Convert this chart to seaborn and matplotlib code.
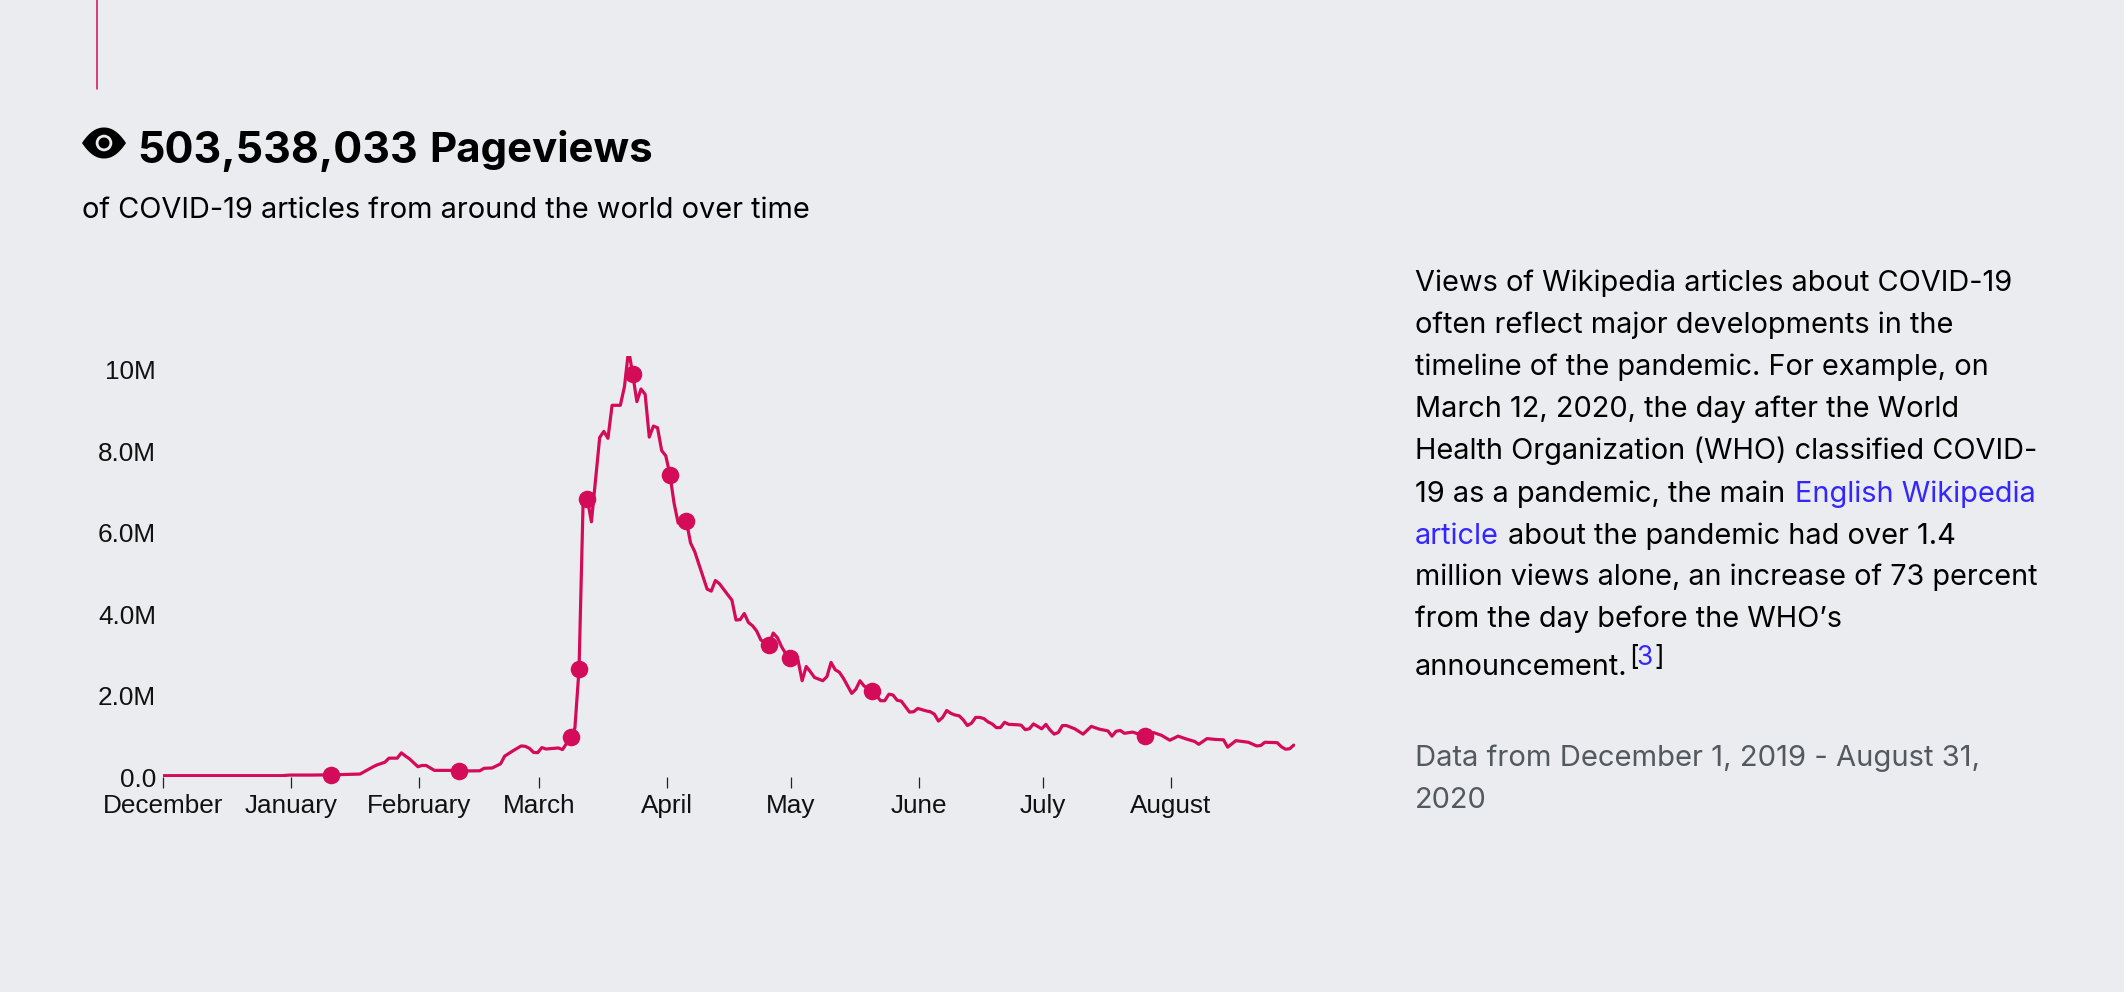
import matplotlib
matplotlib.use("Agg")
import matplotlib.pyplot as plt
import pandas as pd
import seaborn as sns
from matplotlib.patches import Circle, PathPatch
from matplotlib.path import Path
from matplotlib.transforms import ScaledTranslation

# days since Dec 1 2019, views in millions
days = [0, 29, 31, 36, 41, 48, 51, 52, 54, 55, 57, 58, 59, 60, 62, 63, 64, 66, 70, 72, 77, 78, 80, 82, 83, 85, 87, 88, 89, 90, 91, 92, 93, 96, 97,
        99, 100, 101, 102, 103, 104, 106, 107, 108, 109, 111, 112, 113, 114, 115, 116, 117, 118, 119, 120, 121, 122, 123, 124, 125, 126, 127, 128, 129,
        132, 133, 134, 135, 137, 138, 139, 140, 141, 142, 143, 144, 145, 147, 148, 149, 150, 151, 152, 154, 155, 156, 157, 158, 160, 161, 162, 163, 164,
        165, 167, 168, 169, 170, 172, 174, 175, 176, 177, 178, 179, 181, 182, 183, 185, 186, 187, 188, 189, 190, 191, 192, 193, 194, 195, 196, 197, 198,
        199, 200, 201, 202, 203, 204, 205, 207, 208, 209, 210, 211, 213, 214, 215, 216, 217, 218, 219, 221, 223, 225, 227, 229, 230, 231, 232, 233, 235,
        238, 240, 242, 244, 246, 248, 250, 251, 253, 255, 257, 258, 260, 263, 265, 266, 267, 270, 271, 272, 273, 274]
views = [0.0, 0.0, 0.015, 0.015, 0.02, 0.04, 0.21, 0.26, 0.33, 0.43, 0.43, 0.56, 0.48, 0.41, 0.22, 0.25, 0.25, 0.13, 0.13, 0.115, 0.12, 0.18, 0.19, 0.29, 0.48, 0.61, 0.73, 0.72, 0.67, 0.57, 0.565, 0.69, 0.655, 0.68, 0.64,
         0.95, 1.17, 2.61, 6.77, 6.8, 6.23, 8.3, 8.45, 8.28, 9.09, 9.09, 9.55, 10.45, 9.85, 9.18, 9.49, 9.36, 8.31, 8.58, 8.54, 7.98, 7.85, 7.39, 6.69, 6.2, 6.22, 6.24, 5.71, 5.5,
         4.58, 4.53, 4.79, 4.71, 4.44, 4.31, 3.82, 3.83, 3.98, 3.76, 3.68, 3.55, 3.33, 3.21, 3.5, 3.39, 3.17, 3.0, 2.88, 2.84, 2.33, 2.68, 2.55, 2.41, 2.33, 2.43, 2.78, 2.6, 2.54,
         2.39, 2.02, 2.12, 2.33, 2.2, 2.08, 1.84, 1.84, 2.0, 1.98, 1.85, 1.83, 1.56, 1.57, 1.65, 1.59, 1.57, 1.51, 1.34, 1.43, 1.6, 1.53, 1.49, 1.47, 1.37, 1.23, 1.29, 1.43, 1.43,
         1.4, 1.32, 1.27, 1.18, 1.18, 1.31, 1.26, 1.25, 1.24, 1.13, 1.15, 1.27, 1.15, 1.26, 1.12, 1.02, 1.06, 1.23, 1.23, 1.15, 1.02, 1.21, 1.14, 1.1, 0.97, 1.09, 1.11, 1.04, 1.07,
         0.97, 1.06, 0.99, 0.87, 0.97, 0.9, 0.84, 0.77, 0.91, 0.89, 0.88, 0.7, 0.86, 0.82, 0.73, 0.74, 0.82, 0.81, 0.71, 0.65, 0.66, 0.75]

# highlighted days
marker_days = [41, 72, 99, 101, 103, 114, 123, 127, 147, 152, 172, 238]

month_names = ["December", "January", "February", "March", "April", "May", "June", "July", "August"]
month_starts = [0, 31, 62, 91, 122, 152, 183, 213, 244]
y_ticks = [0, 2, 4, 6, 8, 10]
y_labels = ["0.0", "2.0M", "4.0M", "6.0M", "8.0M", "10M"]

body_lines = ["Views of Wikipedia articles about COVID-19",
              "often reflect major developments in the",
              "timeline of the pandemic. For example, on",
              "March 12, 2020, the day after the World",
              "Health Organization (WHO) classified COVID-"]

BG = "#EAECF0"
RED = "#D40B58"
BLUE = "#3326FF"
GRAY = "#54595D"
W, H = 2124, 992

sns.set_theme(style="white", rc={"figure.facecolor": BG, "axes.facecolor": BG})
plt.rcParams["font.family"] = ["Inter", "DejaVu Sans"]

df = pd.DataFrame({"day": days, "views": views})
marks = df[df["day"].isin(marker_days)]

fig = plt.figure(figsize=(W / 100, H / 100), dpi=100)

# main chart, placed by pixels
left, right, top, bottom = 163, 1295, 356, 776.9
ax = fig.add_axes([left / W, 1 - bottom / H, (right - left) / W, (bottom - top) / H])
sns.lineplot(data=df, x="day", y="views", color=RED, linewidth=2.3, estimator=None, ax=ax)
sns.scatterplot(data=marks, x="day", y="views", color=RED, s=160, linewidth=0, zorder=3, clip_on=False, ax=ax)
# the marks sit about a pixel left of the month ticks in the reference
shift = 0.3
ax.set_xlim(shift, 274 + shift)
ax.set_ylim(-0.03, 10.3)
ax.set_xlabel("")
ax.set_ylabel("")
ax.set_xticks([m + shift for m in month_starts])
ax.set_xticklabels(month_names, fontfamily="Liberation Sans", fontsize=18.8, color="#111111")
ax.set_yticks(y_ticks)
ax.set_yticklabels(y_labels, fontfamily="Liberation Sans", fontsize=18.8, color="#111111")
ax.tick_params(axis="x", length=8, width=0.9, color="#222222", pad=4, bottom=True)
ax.tick_params(axis="y", length=0, pad=5)
nudge = ScaledTranslation(0, -1.5 / 100, fig.dpi_scale_trans)
for lab in ax.get_yticklabels():
    lab.set_transform(lab.get_transform() + nudge)
sns.despine(ax=ax, left=True, bottom=True)

# overlay in pixel coordinates for the page furniture and text
page = fig.add_axes([0, 0, 1, 1], facecolor="none")
page.set_xlim(0, W)
page.set_ylim(H, 0)
page.axis("off")

page.plot([96.8, 96.8], [0, 88.7], color=RED, linewidth=1.1)

# eye icon
eye = Path([(82, 143), (90, 131), (97, 127.5), (104, 127.5), (111, 127.5), (118, 131), (126, 143),
            (118, 155), (111, 158.5), (104, 158.5), (97, 158.5), (90, 155), (82, 143)],
           [Path.MOVETO] + [Path.CURVE4] * 12)
page.add_patch(PathPatch(eye, facecolor="black", edgecolor="none"))
page.add_patch(Circle((104, 143), 8.3, facecolor=BG, edgecolor="none"))
page.add_patch(Circle((104, 143), 5.5, facecolor="black", edgecolor="none"))

page.text(137.5, 162.5, "503,538,033", fontsize=30.9, fontweight="bold", color="black")
page.text(429, 162.5, "Pageviews", fontsize=30.2, fontweight="bold", color="black")
page.text(82.5, 218, "of COVID-19 articles from around the world over time", fontsize=20.85, color="black")

BODY = 20.85
x0 = 1415
for i, line in enumerate(body_lines):
    page.text(x0, 291.4 + 42 * i, line, fontsize=BODY, color="black")
page.text(x0, 502, "19 as a pandemic, the main", fontsize=BODY, color="black")
page.text(1795, 502, "English Wikipedia", fontsize=BODY, color=BLUE)
page.text(x0, 544, "article", fontsize=BODY, color=BLUE)
page.text(1507.7, 544, "about the pandemic had over 1.4", fontsize=BODY, color="black")
page.text(x0, 585.4, "million views alone, an increase of 73 percent", fontsize=BODY * 0.995, color="black")
page.text(x0, 627.4, "from the day before the WHO\u2019s", fontsize=BODY, color="black")
page.text(x0, 675.4, "announcement.", fontsize=BODY, color="black")
page.text(1629.5, 665, "[", fontsize=19, color="black")
page.text(1636, 665, "3", fontsize=19, color=BLUE)
page.text(1654, 665, "]", fontsize=19, color="black")
page.text(x0, 766, "Data from December 1, 2019 - August 31,", fontsize=BODY * 1.008, color=GRAY)
page.text(x0, 808, "2020", fontsize=BODY, color=GRAY)

fig.savefig("out.png", dpi=100, facecolor=BG)
